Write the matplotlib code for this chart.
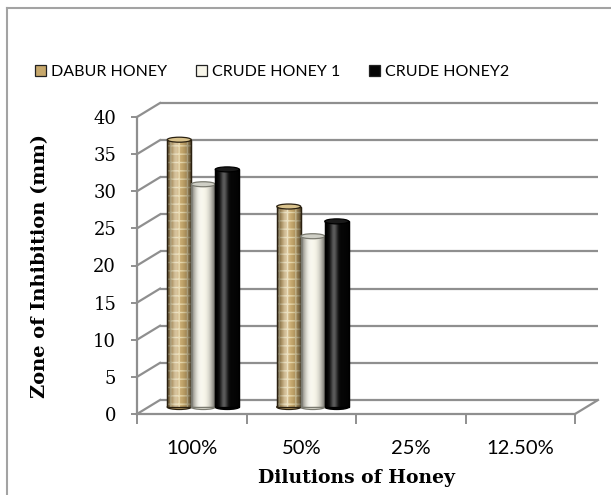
import matplotlib
matplotlib.use("Agg")
import matplotlib.pyplot as plt
import numpy as np
from matplotlib.patches import Ellipse, Rectangle
from matplotlib.lines import Line2D

# ---------------- data ----------------
categories = ["100%", "50%", "25%", "12.50%"]
series_names = ["DABUR HONEY", "CRUDE HONEY 1", "CRUDE HONEY2"]
dabur = [36, 27, 0, 0]
crude1 = [30, 23, 0, 0]
crude2 = [32, 25, 0, 0]
y_ticks = [0, 5, 10, 15, 20, 25, 30, 35, 40]
x_label = "Dilutions of Honey"
y_label = "Zone of Inhibition (mm)"

# ---------------- styling ----------------
W, H = 611, 495
L, R, T, B = 137, 575, 117, 414          # front plot box in pixels
GRID = "#8f8f8f"
SERIF = "DejaVu Serif"
SANS = "Lato"

fig = plt.figure(figsize=(W / 100, H / 100), dpi=100)
ax = fig.add_axes([L / W, 1 - B / H, (R - L) / W, (B - T) / H])
ax.set_xlim(-0.5, len(categories) - 0.5)
ax.set_ylim(0, 40)
ax.set_facecolor("none")

px_x = (R - L) / len(categories)
px_y = (B - T) / 40.0
back_dx, back_dy = 23 / px_x, 14 / px_y
mid_dx, mid_dy = back_dx / 2, back_dy / 2
x0, x1 = -0.5, len(categories) - 0.5

# back wall gridlines + left wall diagonals
for v in y_ticks:
    ax.plot([x0 + back_dx, x1 + back_dx], [v + back_dy] * 2, color=GRID,
            lw=1.6, clip_on=False, zorder=1, solid_capstyle="butt")
    ax.plot([x0, x0 + back_dx], [v, v + back_dy], color=GRID, lw=1.6,
            clip_on=False, zorder=1)
# floor right edge
ax.plot([x1, x1 + back_dx], [0, back_dy], color=GRID, lw=1.6, clip_on=False, zorder=1)

# spines
for s in ["top", "right"]:
    ax.spines[s].set_visible(False)
for s in ["left", "bottom"]:
    ax.spines[s].set_color(GRID)
    ax.spines[s].set_linewidth(1.6)

# ticks
ax.set_yticks(y_ticks)
ax.set_yticklabels([str(v) for v in y_ticks], fontfamily=SERIF, fontsize=13)
ax.tick_params(axis="y", direction="out", length=4, width=1.4, color=GRID, pad=11)
ax.set_xticks(np.arange(-0.5, len(categories)), labels=[""] * (len(categories) + 1))
ax.tick_params(axis="x", which="major", direction="out", length=7, width=1.4, color=GRID)
ax.set_xticks(np.arange(len(categories)), labels=categories, minor=True)
ax.tick_params(axis="x", which="minor", length=0, pad=19)
for lab in ax.get_xticklabels(minor=True):
    lab.set_fontfamily(SANS)
    lab.set_fontsize(14.5)

ax.set_xlabel(x_label, fontfamily=SERIF, fontweight="bold", fontsize=13.5)
ax.xaxis.set_label_coords(0.5, -0.185)
ax.set_ylabel(y_label, fontfamily=SERIF, fontweight="bold", fontsize=14)
ax.yaxis.set_label_coords(-0.2, 0.5)

# ---------------- cylinders ----------------
w = 24 / px_x
cap_h = 5 / px_y
series = [dabur, crude1, crude2]
face = ["#c7a86c", "#f7f5e9", "#060606"]
capc = ["#d9c28c", "#cfcfc6", "#1a1a1a"]
edge = ["#2a2010", "#7a7a70", "#000000"]
offsets = [-w, 0.0, w]

n = 64
t = np.linspace(-1, 1, n)
shade = np.zeros((1, n, 4))
shade[0, :, 3] = 0.55 * np.abs(t) ** 2.2
hi = np.zeros((1, n, 4))
hi[..., :3] = 1.0
hi[0, :, 3] = 0.35 * np.exp(-((t + 0.25) / 0.3) ** 2)

for si, vals in enumerate(series):
    xs = np.arange(len(categories)) + offsets[si] + mid_dx
    for xi, v in zip(xs, vals):
        if v <= 0:
            continue
        ax.add_patch(Ellipse((xi, mid_dy), w, cap_h, facecolor=face[si],
                             edgecolor=edge[si], lw=0.9, zorder=3 + si * 0.1, clip_on=False))
    bars = ax.bar(xs, vals, width=w, bottom=mid_dy, color=face[si],
                  edgecolor=edge[si], linewidth=0.9, zorder=4 + si * 0.1, clip_on=False)
    for rect, v in zip(bars, vals):
        if v <= 0:
            rect.set_visible(False)
            continue
        bx, by = rect.get_x(), rect.get_y()
        bw, bh = rect.get_width(), rect.get_height()
        if si == 0:
            ax.add_patch(Rectangle((bx, by), bw, bh, fill=False, hatch="++",
                                   edgecolor="#e6d6a8", lw=0, zorder=4.02, clip_on=False))
        for img, z in ((shade, 4.04), (hi, 4.05)):
            im = ax.imshow(img, extent=[bx, bx + bw, by, by + bh], aspect="auto",
                           zorder=z + si * 0.1, interpolation="bilinear")
            im.set_clip_path(rect)
        ax.add_patch(Rectangle((bx, by), bw, bh, fill=False, edgecolor=edge[si],
                               lw=0.9, zorder=4.07 + si * 0.1, clip_on=False))
        ax.add_patch(Ellipse((bx + bw / 2, by + bh), bw, cap_h, facecolor=capc[si],
                             edgecolor=edge[si], lw=0.9, zorder=4.08 + si * 0.1,
                             clip_on=False))

ax.set_xlim(-0.5, len(categories) - 0.5)
ax.set_ylim(0, 40)
ax.set_aspect("auto")

# ---------------- legend ----------------
handles = [Rectangle((0, 0), 1, 1, facecolor=face[i], edgecolor="#222222", lw=0.9)
           for i in range(3)]
fig.legend(handles, series_names, loc="center", bbox_to_anchor=(272 / W, 1 - 72 / H),
           ncol=3, frameon=False, prop={"family": SANS, "size": 11.5},
           handlelength=0.7, handleheight=0.7, handletextpad=0.3, columnspacing=1.8)

# ---------------- outer chart border ----------------
fig.add_artist(Line2D([7 / W, 7 / W], [-0.01, 1 - 8 / H], color="#a3a3a3", lw=1.5,
                      transform=fig.transFigure))
fig.add_artist(Line2D([7 / W, 1.01], [1 - 8 / H, 1 - 8 / H], color="#a3a3a3", lw=1.5,
                      transform=fig.transFigure))

fig.savefig("out.png", dpi=100)
